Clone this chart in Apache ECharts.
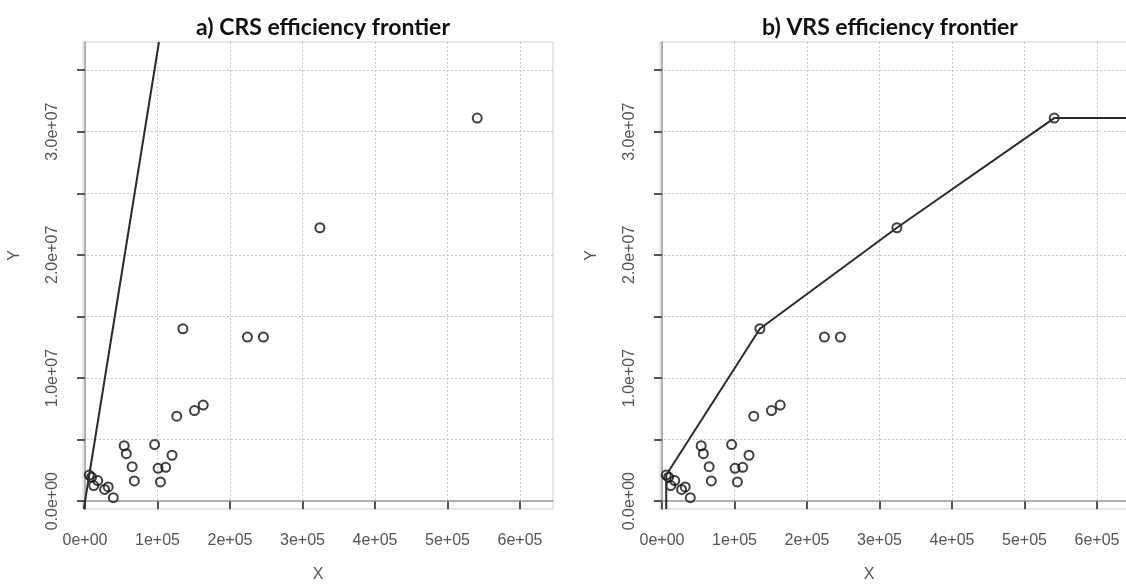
<!DOCTYPE html>
<html>
<head>
<meta charset="utf-8">
<title>CRS and VRS efficiency frontiers</title>
<script src="https://cdn.jsdelivr.net/npm/echarts@6/dist/echarts.min.js"></script>
<style>
  html, body { margin: 0; padding: 0; background: #fff; overflow: hidden; }
  #chart { width: 1180px; height: 588px; }
</style>
</head>
<body>
<div id="chart"></div>
<script>
// input (X) and output (Y) of each unit
const dmuX = [5800, 9000, 12000, 17500, 27000, 32000, 39000, 54000, 57000, 65000, 68000,
  96000, 100700, 104000, 111300, 120000, 126500, 135000, 151000, 163000, 224000, 246000,
  324000, 541000]
const dmuY = [2120000, 1950000, 1270000, 1670000, 950000, 1160000, 280000, 4500000, 3860000,
  2800000, 1640000, 4600000, 2670000, 1560000, 2750000, 3730000, 6900000, 14000000, 7360000,
  7800000, 13330000, 13330000, 22200000, 31100000]

// units spanning the VRS frontier (index into dmuX / dmuY)
const vrsFrontier = [0, 17, 22, 23]

const panelTitles = ['a) CRS efficiency frontier', 'b) VRS efficiency frontier']
const xTicks = [0, 100000, 200000, 300000, 400000, 500000, 600000]
const yTicks = [0, 5e6, 1e7, 1.5e7, 2e7, 2.5e7, 3e7, 3.5e7]
const yLabels = [0, 1e7, 2e7, 3e7]

const xMin = -2800
const xMax = 645500
const yMin = -635000
const yMax = 37280000

// R-like scientific labels: 1e+05, 2.0e+07
function rsci(v, digits) {
  const parts = Number(v).toExponential(digits).split('e')
  const exp = parts[1]
  return parts[0] + 'e' + exp[0] + exp.slice(1).padStart(2, '0')
}

const points = dmuX.map((x, i) => [x, dmuY[i]])

// CRS frontier: ray from the origin through the best output/input ratio
const crsSlope = Math.max(...dmuX.map((x, i) => dmuY[i] / x))
const crsLine = [[yMin / crsSlope, yMin], [yMax / crsSlope, yMax]]

// VRS frontier: vertical drop at the smallest unit, flat after the largest
const first = vrsFrontier[0]
const last = vrsFrontier[vrsFrontier.length - 1]
const vrsLine = [[dmuX[first], yMin]]
  .concat(vrsFrontier.map((i) => [dmuX[i], dmuY[i]]))
  .concat([[xMax, dmuY[last]]])

const labelFont = { color: '#555', fontSize: 16, fontFamily: 'Liberation Sans' }
const panelLeft = [83, 660]
const xNamePad = [[0, 0, 0, 0], [0, 52, 0, 0]]

function xAxisFor(i) {
  return {
    type: 'value', gridIndex: i, min: xMin, max: xMax,
    minInterval: 100000, maxInterval: 100000,
    axisLine: { show: true, onZero: true, lineStyle: { color: '#9a9a9a', width: 1.5 } },
    axisTick: { show: true, length: 8, customValues: xTicks, lineStyle: { color: '#555', width: 2 } },
    axisLabel: { customValues: xTicks, formatter: (v) => rsci(v, 0), margin: 24, ...labelFont },
    splitLine: { show: true, lineStyle: { color: '#c8c8c8', type: [2, 2], width: 1 } },
    name: 'X', nameLocation: 'middle', nameGap: 58,
    nameTextStyle: { ...labelFont, padding: xNamePad[i] }
  }
}

function yAxisFor(i) {
  return {
    type: 'value', gridIndex: i, min: yMin, max: yMax,
    minInterval: 5e6, maxInterval: 5e6,
    axisLine: { show: true, onZero: true, lineStyle: { color: '#9a9a9a', width: 1.5 } },
    axisTick: { show: true, length: 8, customValues: yTicks, lineStyle: { color: '#555', width: 2 } },
    axisLabel: { customValues: yLabels, rotate: 90, formatter: (v) => rsci(v, 1), margin: 22, ...labelFont },
    splitLine: { show: true, lineStyle: { color: '#c8c8c8', type: [2, 2], width: 1 } },
    name: 'Y', nameLocation: 'middle', nameGap: 60,
    nameTextStyle: { ...labelFont, padding: [0, 0, 0, 40] }
  }
}

const scatterStyle = {
  type: 'scatter', symbol: 'circle', symbolSize: 9,
  itemStyle: { color: 'rgba(0,0,0,0)', borderColor: '#111', borderWidth: 2 },
  emphasis: { disabled: true }
}
const lineStyle = {
  type: 'line', showSymbol: false, clip: true,
  lineStyle: { color: '#2b2b2b', width: 2 },
  emphasis: { disabled: true }
}

const titleFont = { fontFamily: 'Lato', fontWeight: 'bold', fontSize: 23, color: '#111' }

const chart = echarts.init(document.getElementById('chart'))
chart.setOption({
  animation: false,
  title: [
    { text: panelTitles[0], left: 318, top: 11, textAlign: 'center', textStyle: titleFont },
    { text: panelTitles[1], left: 885, top: 11, textAlign: 'center', textStyle: titleFont }
  ],
  grid: panelLeft.map((left) => ({
    left, top: 42, width: 470, height: 478,
    show: true, borderColor: '#cfcfcf', borderWidth: 1, backgroundColor: 'transparent'
  })),
  xAxis: [xAxisFor(0), xAxisFor(1)],
  yAxis: [yAxisFor(0), yAxisFor(1)],
  series: [
    { ...lineStyle, xAxisIndex: 0, yAxisIndex: 0, data: crsLine },
    { ...scatterStyle, xAxisIndex: 0, yAxisIndex: 0, data: points },
    { ...lineStyle, xAxisIndex: 1, yAxisIndex: 1, data: vrsLine },
    { ...scatterStyle, xAxisIndex: 1, yAxisIndex: 1, data: points }
  ]
})
</script>
</body>
</html>
